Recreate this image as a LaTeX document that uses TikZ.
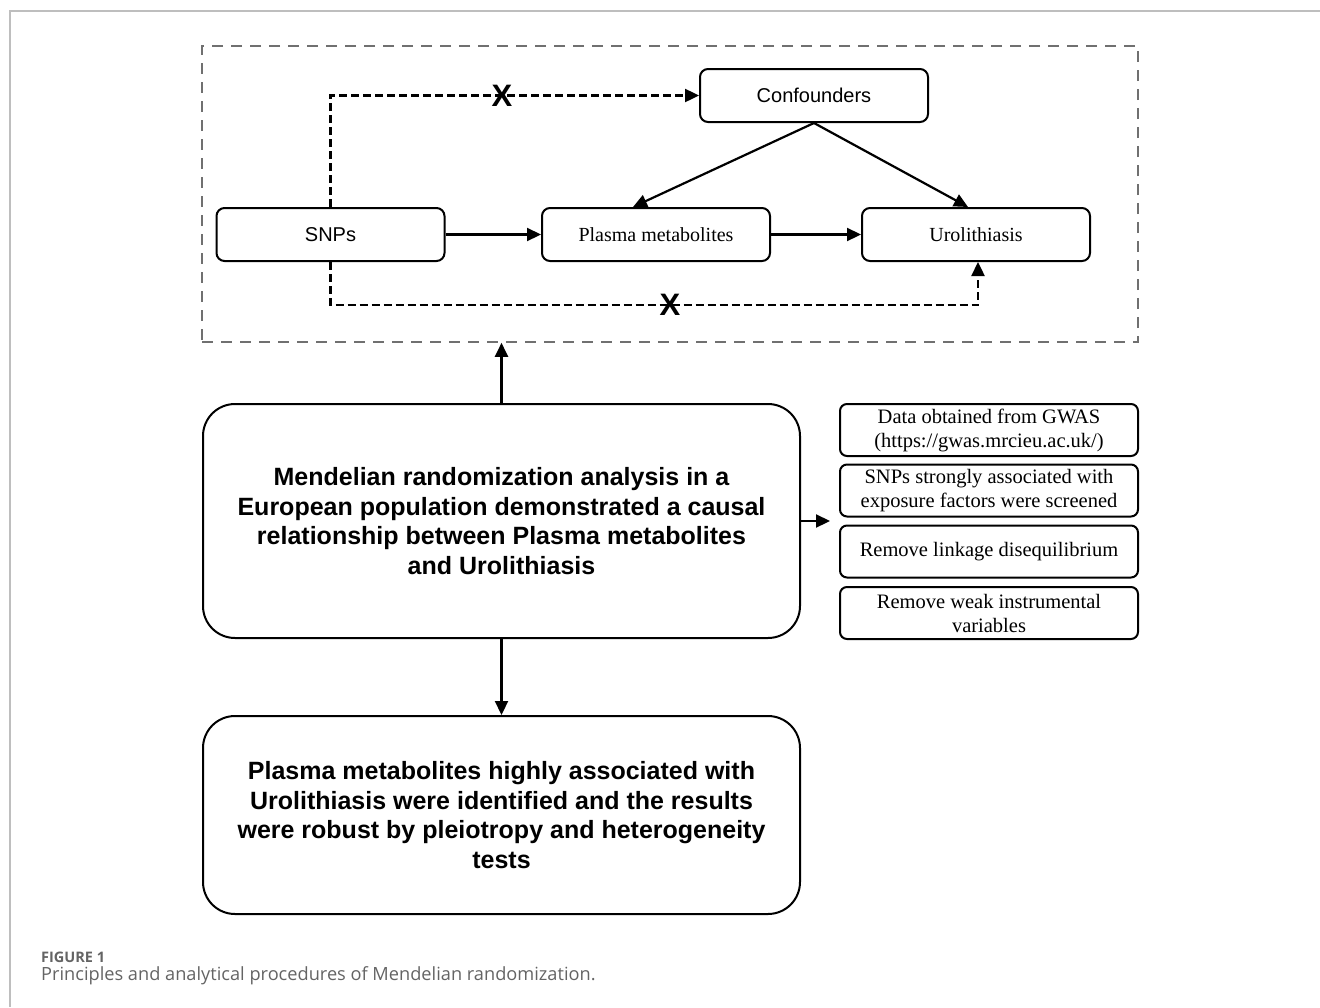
\documentclass[tikz,border=0pt]{standalone}
\usepackage{fontspec}
\setmainfont{Liberation Serif}
\setsansfont{Liberation Sans}
\newfontfamily\capfont{Open Sans}
\usetikzlibrary{arrows.meta,calc}
\definecolor{framegray}{RGB}{112,112,112}
\definecolor{pagegray}{RGB}{190,190,190}
\definecolor{capgray}{RGB}{100,100,100}
\begin{document}
\begin{tikzpicture}[x=1pt,y=-1pt,
  box/.style={draw,line width=2pt,rounded corners=8pt,minimum width=228pt,minimum height=53pt,inner sep=0pt,align=center},
  sansbox/.style={box,font=\sffamily\fontsize{20}{24}\selectfont},
  serifbox/.style={box,font=\fontsize{20}{24}\selectfont},
  bigbox/.style={draw,line width=2pt,rounded corners=32pt,minimum width=597pt,inner sep=0pt,align=center,font=\sffamily\bfseries\fontsize{25}{29.6}\selectfont},
  sbox/.style={draw,line width=2pt,rounded corners=7pt,minimum width=298pt,minimum height=52pt,inner sep=0pt,align=center,font=\fontsize{20.5}{24}\selectfont},
  arr/.style={line width=2.2pt,-{Triangle[length=14pt,width=13pt]}},
  darr/.style={arr,line width=2.4pt,dash pattern=on 8pt off 4pt},
  framebox/.style={draw=framegray,line width=1.6pt,dash pattern=on 11pt off 8pt,minimum width=936pt,minimum height=296pt,inner sep=0pt},
  xmark/.style={font=\sffamily\bfseries\fontsize{31}{31}\selectfont,inner sep=0pt},
]
\useasboundingbox (0,0) rectangle (1320,1007);
% page frame lines
\draw[pagegray,line width=1.5pt] (1320,11) -- (10,11) -- (10,1007);

% dashed frame
\node[framebox] (frame) at (670,194) {};

% top diagram
\node[sansbox] (snps) at (330.5,234.5) {SNPs};
\node[serifbox] (plasma) at (656,234.5) {Plasma metabolites};
\node[serifbox] (uro) at (976,234.5) {Urolithiasis};
\node[sansbox] (conf) at (814,95.5) {Confounders};

\draw[arr] (snps.east) -- (plasma.west);
\draw[arr] (plasma.east) -- (uro.west);
\draw[arr] (conf.south) -- ([xshift=-23pt]plasma.north);
\draw[arr] (conf.south) -- ([xshift=-8pt]uro.north);

\coordinate (bc) at (978,305);
\draw[darr] (snps.north) |- (conf.west);
\draw[darr] (snps.south) |- (bc) -- (bc |- uro.south);
\node[xmark] (x1) at (502,96) {X};
\node[xmark] (x2) at (670,305) {X};

% big boxes
\node[bigbox,minimum height=234pt] (main) at (501.5,521) {Mendelian randomization analysis in a\\European population demonstrated a causal\\relationship between Plasma metabolites\\and Urolithiasis};
\node[bigbox,minimum height=198pt] (res) at (501.5,815) {Plasma metabolites highly associated with\\Urolithiasis were identified and the results\\were robust by pleiotropy and heterogeneity\\tests};

\draw[arr] (main.north) -- (main.north |- frame.south);
\draw[arr] (main.south) -- (res.north);
\coordinate (ra) at (830,521);
\draw[arr] (main.east) -- (ra);

% right boxes
\node[sbox] (s1) at (989,430) {Data obtained from GWAS\\(https://gwas.mrcieu.ac.uk/)};
\node[sbox] (s2) at (989,490.5) {SNPs strongly associated with\\exposure factors were screened};
\node[sbox] (s3) at (989,551.5) {Remove linkage disequilibrium};
\node[sbox] (s4) at (989,613) {Remove weak instrumental\\variables};

% caption
\node[anchor=west,inner sep=0pt,text=capgray,font=\capfont\bfseries\fontsize{14.5}{16}\selectfont] (fig) at (41,957) {FIGURE 1};
\node[anchor=west,inner sep=0pt,text=capgray,font=\capfont\fontsize{18.2}{20}\selectfont] (cap) at (41,976) {Principles and analytical procedures of Mendelian randomization.};
\end{tikzpicture}
\end{document}
